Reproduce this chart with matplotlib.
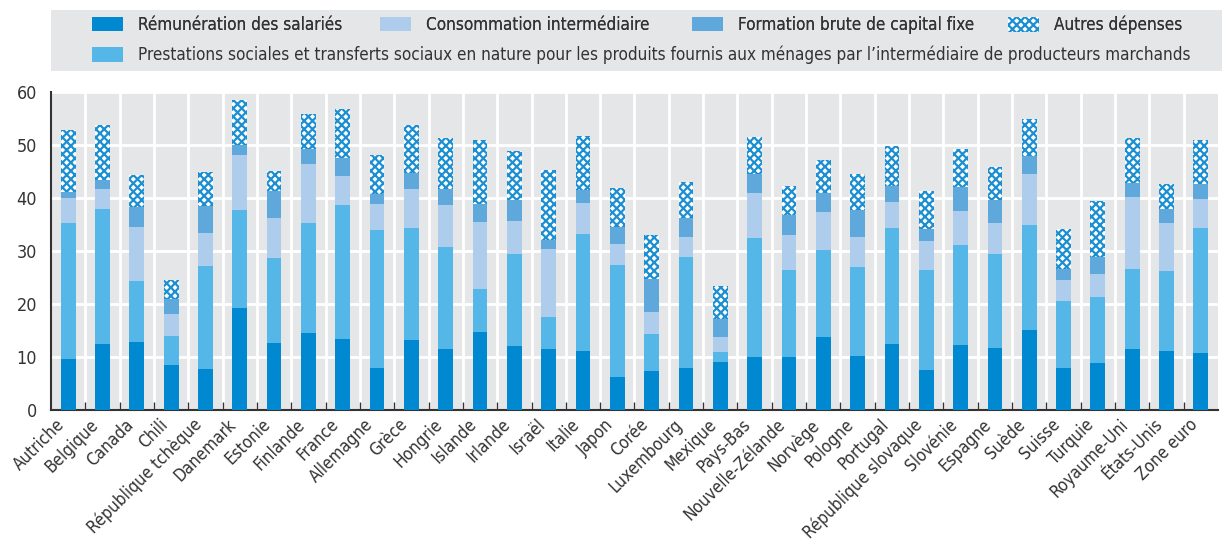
import numpy as np
import matplotlib
matplotlib.use("Agg")
from matplotlib import pyplot as plt
from matplotlib import font_manager as fm
from matplotlib.font_manager import FontProperties
from matplotlib.textpath import TextToPath
from matplotlib.patches import Patch, Rectangle

# pick the narrowest sans available (reference uses a condensed face)
names = {f.name for f in fm.fontManager.ttflist}
stretch = "normal"
if "Liberation Sans Narrow" in names:
    family = "Liberation Sans Narrow"
elif any(f.name == "DejaVu Sans" and str(f.stretch) in ("condensed", "semi-condensed")
         for f in fm.fontManager.ttflist):
    family = "DejaVu Sans"
    stretch = "condensed"
else:
    family = "Liberation Sans"
plt.rcParams['font.family'] = [family, 'DejaVu Sans']
plt.rcParams['font.stretch'] = stretch
plt.rcParams['hatch.linewidth'] = 1.6

countries = ["Autriche", "Belgique", "Canada", "Chili", "République tchèque", "Danemark",
             "Estonie", "Finlande", "France", "Allemagne", "Grèce", "Hongrie", "Islande",
             "Irlande", "Israël", "Italie", "Japon", "Corée", "Luxembourg", "Mexique",
             "Pays-Bas", "Nouvelle-Zélande", "Norvège", "Pologne", "Portugal",
             "République slovaque", "Slovénie", "Espagne", "Suède", "Suisse", "Turquie",
             "Royaume-Uni", "États-Unis", "Zone euro"]

remuneration = [9.6, 12.5, 12.8, 8.5, 7.7, 19.3, 12.7, 14.5, 13.4, 7.9, 13.2, 11.5, 14.7,
                12.1, 11.5, 11.1, 6.2, 7.4, 7.9, 9.1, 10.0, 10.0, 13.8, 10.2, 12.5,
                7.6, 12.3, 11.7, 15.1, 7.9, 8.9, 11.5, 11.1, 10.8]
prestations = [25.7, 25.5, 11.6, 5.5, 19.5, 18.5, 16.0, 20.8, 25.3, 26.1, 21.2, 19.3, 8.2,
               17.4, 6.1, 22.1, 21.2, 7.0, 21.0, 1.9, 22.5, 16.4, 16.4, 16.8, 21.9,
               18.8, 18.9, 17.8, 19.8, 12.7, 12.4, 15.1, 15.2, 23.6]
consommation = [4.7, 3.7, 10.2, 4.1, 6.2, 10.4, 7.6, 11.2, 5.5, 4.9, 7.3, 7.9, 12.6,
                6.2, 12.8, 5.9, 3.9, 4.1, 3.8, 2.8, 8.5, 6.6, 7.2, 5.7, 4.9,
                5.5, 6.4, 5.8, 9.7, 4.0, 4.4, 13.6, 9.0, 5.4]
fbcf = [1.2, 1.7, 3.7, 2.9, 5.1, 1.8, 5.1, 2.8, 3.4, 1.8, 3.1, 3.0, 3.4,
        4.0, 1.7, 2.4, 3.3, 6.2, 3.6, 3.4, 3.6, 3.8, 3.6, 5.1, 3.0,
        2.3, 4.5, 4.4, 3.4, 2.0, 3.2, 2.7, 2.7, 2.9]
autres = [11.7, 10.4, 6.1, 3.6, 6.4, 8.4, 3.7, 6.6, 9.1, 7.5, 9.0, 9.7, 12.1,
          9.2, 13.2, 10.2, 7.3, 8.3, 6.8, 6.2, 7.0, 5.5, 6.2, 6.8, 7.6,
          7.2, 7.2, 6.2, 7.0, 7.6, 10.6, 8.5, 4.7, 8.3]

series_labels = ["Rémunération des salariés", "Consommation intermédiaire",
                 "Formation brute de capital fixe", "Autres dépenses"]
long_label = ("Prestations sociales et transferts sociaux en nature pour les produits "
              "fournis aux ménages par l\u2019intermédiaire de producteurs marchands")

# size the text so the long legend line spans the same width as in the reference (~1049 px)
w10, _, _ = TextToPath().get_text_width_height_descent(
    long_label, FontProperties(family=[family, 'DejaVu Sans'], stretch=stretch, size=10), ismath=False)
fs = min(13.5, 10 * 1049 / (w10 * 100 / 72))

c_rem = "#0089d0"
c_prest = "#55b7e8"
c_conso = "#aecdec"
c_fbcf = "#5ea8dc"
c_hatch = "#1b8fd2"
txt = "#333333"

fig = plt.figure(figsize=(12.24, 5.41), dpi=100)
ax = fig.add_axes([51 / 1224, 1 - 410 / 541, 1167 / 1224, 318 / 541])
ax.set_facecolor("#e5e6e8")

x = np.arange(len(countries))
w = 0.43
bottom = np.zeros(len(countries))
for vals, col in [(remuneration, c_rem), (prestations, c_prest), (consommation, c_conso), (fbcf, c_fbcf)]:
    ax.bar(x, vals, w, bottom=bottom, color=col, linewidth=0, zorder=3)
    bottom += np.array(vals)
ax.bar(x, autres, w, bottom=bottom, facecolor="white", edgecolor=c_hatch, hatch="xxxx",
       linewidth=0, zorder=3)

ax.set_xlim(-0.5, len(countries) - 0.5)
ax.set_ylim(0, 60)
ax.set_yticks(range(0, 61, 10))
ax.set_xticks(x)
ax.set_xticklabels(countries, rotation=45, ha="right", va="top", fontsize=fs, color=txt)
ax.tick_params(axis="x", length=0, pad=4)
ax.set_xticks(x[:-1] + 0.5, minor=True)
ax.tick_params(axis="x", which="minor", direction="in", length=6, color="#333333", width=1)
ax.tick_params(axis="y", length=0, labelsize=fs * 1.05, labelcolor=txt, pad=10)

ax.grid(True, which="major", axis="y", color="white", linewidth=2, zorder=1)
ax.grid(True, which="minor", axis="x", color="white", linewidth=2, zorder=1)
ax.set_axisbelow(True)
for s in ["top", "right"]:
    ax.spines[s].set_visible(False)
for s in ["left", "bottom"]:
    ax.spines[s].set_color("#333333")
    ax.spines[s].set_linewidth(1.5)

# legend background
fig.patches.append(Rectangle((51 / 1224, 1 - 71 / 541), 1171 / 1224, 61 / 541,
                             transform=fig.transFigure, facecolor="#e5e6e8",
                             edgecolor="none", zorder=0))

h_rem = Patch(facecolor=c_rem)
h_prest = Patch(facecolor=c_prest)
h_conso = Patch(facecolor=c_conso)
h_fbcf = Patch(facecolor=c_fbcf)
h_aut = Patch(facecolor="white", edgecolor=c_hatch, hatch="xxxx", linewidth=0)

px = fs * 100 / 72
leg_kw = dict(frameon=False, fontsize=fs, handlelength=31 / px, handleheight=16 / px,
              handletextpad=15 / px, borderpad=0, borderaxespad=0, labelcolor=txt,
              loc="center left")
# one entry per legend so each key sits where it does in the reference
row1_x = [92, 380, 692, 1008]
for h, lab, xp in zip([h_rem, h_conso, h_fbcf, h_aut], series_labels, row1_x):
    fig.add_artist(fig.legend([h], [lab], bbox_to_anchor=(xp / 1224, 1 - 25 / 541), **leg_kw))
fig.legend([h_prest], [long_label], bbox_to_anchor=(92 / 1224, 1 - 55 / 541), **leg_kw)

fig.savefig("out.png", dpi=100)
